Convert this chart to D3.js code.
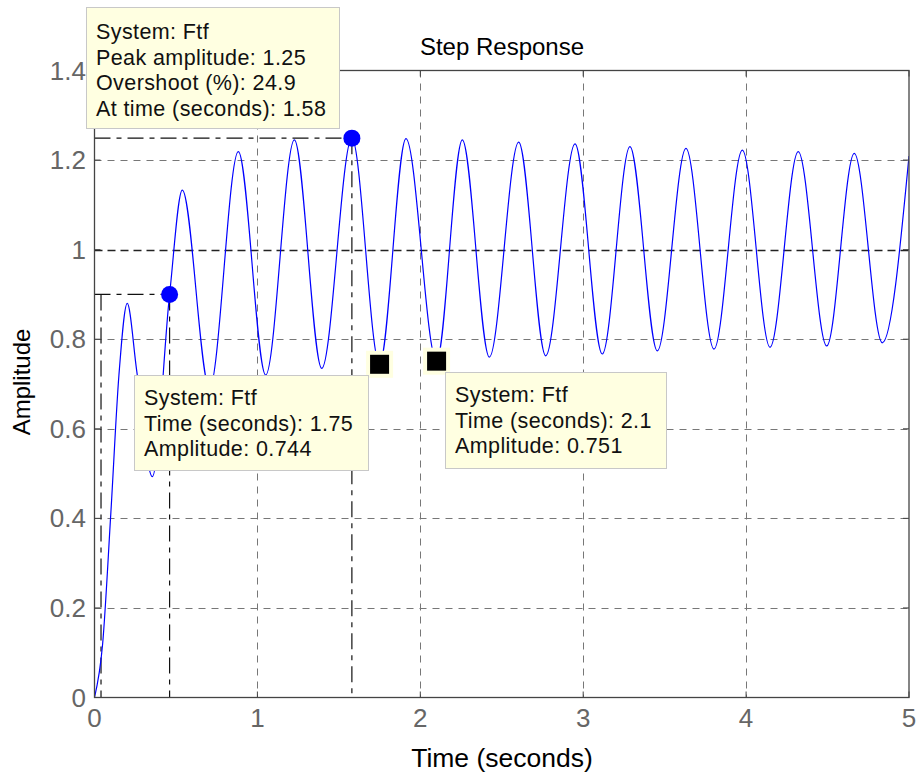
<!DOCTYPE html>
<html>
<head>
<meta charset="utf-8">
<script src="https://cdn.jsdelivr.net/npm/d3@7"></script>
<style>
  body { margin: 0; background: #fff; }
  text { font-family: "Liberation Sans", Arial, sans-serif; }
</style>
</head>
<body>
<div id="chart"></div>
<script>
// step response (peaks / troughs and the first rise)
var stepTime = [0, 0.05, 0.1, 0.15, 0.201, 0.259, 0.355, 0.461, 0.539, 0.706, 0.883, 1.051, 1.227, 1.395, 1.58, 1.75, 1.912, 2.1, 2.258, 2.424, 2.604, 2.77, 2.95, 3.117, 3.287, 3.455, 3.631, 3.803, 3.977, 4.147, 4.32, 4.495, 4.664, 4.836, 5.0]
var stepAmp = [0, 0.12, 0.41, 0.72, 0.88, 0.73, 0.493, 0.9, 1.133, 0.69, 1.219, 0.72, 1.245, 0.735, 1.249, 0.744, 1.248, 0.751, 1.245, 0.76, 1.24, 0.763, 1.236, 0.767, 1.23, 0.774, 1.226, 0.778, 1.222, 0.782, 1.219, 0.785, 1.215, 0.792, 1.209]

var xTicks = [0, 1, 2, 3, 4, 5]
var yTicks = [0, 0.2, 0.4, 0.6, 0.8, 1, 1.2, 1.4]
var yTickLabels = ['0', '0.2', '0.4', '0.6', '0.8', '1', '1.2', '1.4']

var finalValue = 1
var peak = { t: 1.58, a: 1.249 }
var rise = { t10: 0.04, t90: 0.461, a90: 0.9 }
var tipPoints = [{ t: 1.75, a: 0.744 }, { t: 2.1, a: 0.751 }]

var tipPeakText = ['System: Ftf', 'Peak amplitude: 1.25', 'Overshoot (%): 24.9', 'At time (seconds): 1.58']
var tipAText = ['System: Ftf', 'Time (seconds): 1.75', 'Amplitude: 0.744']
var tipBText = ['System: Ftf', 'Time (seconds): 2.1', 'Amplitude: 0.751']

var width = 919, height = 776
var plotL = 94.5, plotR = 909, plotT = 70.5, plotB = 697.5

var svg = d3.select('#chart').append('svg')
    .attr('width', width)
    .attr('height', height)

var x = d3.scaleLinear().domain([0, 5]).range([plotL, plotR])
var y = d3.scaleLinear().domain([0, 1.4]).range([plotB, plotT])

svg.append('defs').append('clipPath').attr('id', 'plotClip')
    .append('rect')
    .attr('x', plotL).attr('y', plotT)
    .attr('width', plotR - plotL).attr('height', plotB - plotT)

// grid
var grid = svg.append('g')
grid.selectAll('line.gx')
    .data(xTicks.slice(1, -1))
    .enter().append('line')
    .attr('x1', function(d) { return Math.round(x(d)) + 0.5 })
    .attr('x2', function(d) { return Math.round(x(d)) + 0.5 })
    .attr('y1', plotT).attr('y2', plotB)
    .attr('stroke', '#777').attr('stroke-dasharray', '7,6')

grid.selectAll('line.gy')
    .data(yTicks.slice(1, -1).filter(function(d) { return d != finalValue }))
    .enter().append('line')
    .attr('y1', function(d) { return Math.round(y(d)) + 0.5 })
    .attr('y2', function(d) { return Math.round(y(d)) + 0.5 })
    .attr('x1', plotL).attr('x2', plotR)
    .attr('stroke', '#777').attr('stroke-dasharray', '7,6')

// steady state line
svg.append('line')
    .attr('x1', plotL).attr('x2', plotR)
    .attr('y1', Math.round(y(finalValue)) + 0.5).attr('y2', Math.round(y(finalValue)) + 0.5)
    .attr('stroke', '#222').attr('stroke-width', 1.3).attr('stroke-dasharray', '8,5')

// characteristic lines (peak, rise time)
var charLines = [
    [[0, peak.a], [peak.t, peak.a]],
    [[peak.t, peak.a], [peak.t, 0]],
    [[0, rise.a90], [rise.t90, rise.a90]],
    [[rise.t90, rise.a90], [rise.t90, 0]],
    [[rise.t10, rise.a90], [rise.t10, 0]]
]
svg.append('g').selectAll('line')
    .data(charLines)
    .enter().append('line')
    .attr('x1', function(d) { return x(d[0][0]) })
    .attr('y1', function(d) { return y(d[0][1]) })
    .attr('x2', function(d) { return x(d[1][0]) })
    .attr('y2', function(d) { return y(d[1][1]) })
    .attr('stroke', '#111').attr('stroke-width', 1.2)
    .attr('stroke-dasharray', '16,6,5,6')

// response curve
var line = d3.line()
    .x(function(d, i) { return x(stepTime[i]) })
    .y(function(d) { return y(d) })
    .curve(d3.curveMonotoneX)

svg.append('path')
    .datum(stepAmp)
    .attr('clip-path', 'url(#plotClip)')
    .attr('d', line)
    .attr('fill', 'none')
    .attr('stroke', '#0000ff')
    .attr('stroke-width', 1.2)

// axes box and ticks
svg.append('rect')
    .attr('x', plotL).attr('y', plotT)
    .attr('width', plotR - plotL).attr('height', plotB - plotT)
    .attr('fill', 'none').attr('stroke', '#444').attr('stroke-width', 1.3)

var ticks = svg.append('g').attr('stroke', '#444')
xTicks.forEach(function(d) {
    ticks.append('line').attr('x1', x(d)).attr('x2', x(d)).attr('y1', plotB).attr('y2', plotB - 6)
    ticks.append('line').attr('x1', x(d)).attr('x2', x(d)).attr('y1', plotT).attr('y2', plotT + 6)
})
yTicks.forEach(function(d) {
    ticks.append('line').attr('y1', y(d)).attr('y2', y(d)).attr('x1', plotL).attr('x2', plotL + 6)
    ticks.append('line').attr('y1', y(d)).attr('y2', y(d)).attr('x1', plotR).attr('x2', plotR - 6)
})

svg.append('g').selectAll('text')
    .data(xTicks)
    .enter().append('text')
    .attr('x', function(d) { return x(d) })
    .attr('y', 727)
    .attr('text-anchor', 'middle')
    .attr('font-size', 26)
    .attr('fill', '#666')
    .text(function(d) { return d })

svg.append('g').selectAll('text')
    .data(yTicks)
    .enter().append('text')
    .attr('x', 86)
    .attr('y', function(d) { return y(d) + 9 })
    .attr('text-anchor', 'end')
    .attr('font-size', 26)
    .attr('fill', '#666')
    .text(function(d, i) { return yTickLabels[i] })

svg.append('text')
    .attr('x', 502).attr('y', 55)
    .attr('text-anchor', 'middle')
    .attr('font-size', 24)
    .text('Step Response')

svg.append('text')
    .attr('x', 502).attr('y', 767)
    .attr('text-anchor', 'middle')
    .attr('font-size', 26.5)
    .text('Time (seconds)')

svg.append('text')
    .attr('transform', 'translate(30,382) rotate(-90)')
    .attr('text-anchor', 'middle')
    .attr('font-size', 24)
    .text('Amplitude')

// markers
svg.selectAll('circle.mk')
    .data([[peak.t, peak.a], [rise.t90, rise.a90]])
    .enter().append('circle')
    .attr('cx', function(d) { return x(d[0]) })
    .attr('cy', function(d) { return y(d[1]) })
    .attr('r', 8.5)
    .attr('fill', '#0000ff')

var sq = svg.append('g').selectAll('g')
    .data(tipPoints)
    .enter().append('g')
    .attr('transform', function(d) { return 'translate(' + x(d.t) + ',' + y(d.a) + ')' })
sq.append('rect')
    .attr('x', -13.5).attr('y', -13.5).attr('width', 27).attr('height', 27)
    .attr('fill', '#ffffe1')
sq.append('rect')
    .attr('x', -9.5).attr('y', -9.5).attr('width', 19).attr('height', 19)
    .attr('fill', '#000')

// data tips
function dataTip(lines, bx, by, bw, bh, firstBase) {
    var g = svg.append('g')
    g.append('rect')
        .attr('x', bx + 0.5).attr('y', by + 0.5)
        .attr('width', bw).attr('height', bh)
        .attr('fill', '#ffffe1')
        .attr('stroke', '#c8c8c8')
    g.selectAll('text')
        .data(lines)
        .enter().append('text')
        .attr('x', bx + 10)
        .attr('y', function(d, i) { return firstBase + i * 25.5 })
        .attr('font-size', 21.5)
        .attr('letter-spacing', 0.4)
        .attr('fill', '#111')
        .text(function(d) { return d })
}

dataTip(tipPeakText, 86, 7, 253, 121, 39)
dataTip(tipAText, 134, 375, 234, 95, 405)
dataTip(tipBText, 445, 372, 221, 96, 402)
</script>
</body>
</html>
